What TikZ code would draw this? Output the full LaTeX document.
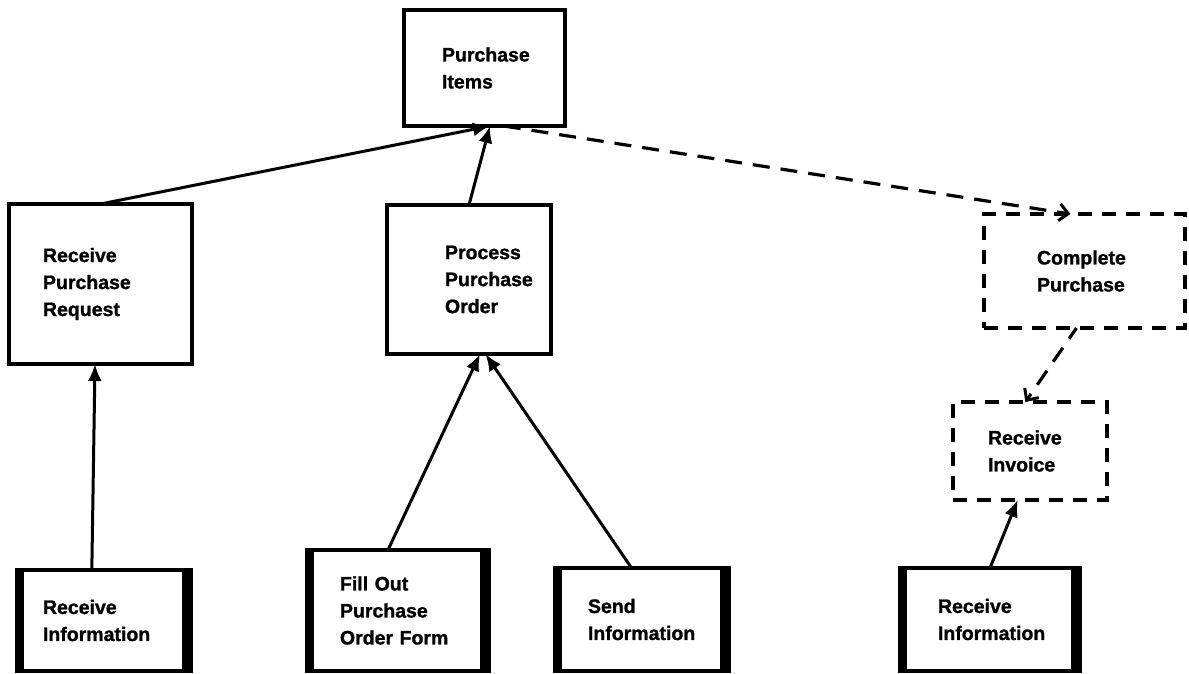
\documentclass[tikz,border=0pt]{standalone}
\usepackage{fontspec}
\setmainfont{Liberation Sans}
\newfontfamily\heavyfont{Liberation Sans Bold}[FakeBold=1.2]
\usetikzlibrary{arrows.meta,calc}
\begin{document}
\begin{tikzpicture}[x=1pt,y=-1pt,
  box/.style={draw,line width=3.2pt,anchor=north west,align=left,inner ysep=0pt,outer sep=0pt,
    font=\fontsize{19.5}{27}\heavyfont},
  dbox/.style={box,line width=3.4pt,dash pattern=on 14pt off 10pt},
  basebox/.style={box,line width=3.4pt,
    path picture={
      \fill (path picture bounding box.north west) rectangle ([xshift=7pt]path picture bounding box.south west);
      \fill (path picture bounding box.north east) rectangle ([xshift=-9pt]path picture bounding box.south east);
    }},
  conn/.style={line width=3pt,-{Latex[length=17pt,width=14pt]}},
  dconn/.style={line width=3.2pt,dash pattern=on 17pt off 11pt,
    -{Straight Barb[length=9pt,width=17pt,line width=3pt]}}
]
\useasboundingbox (0,0) rectangle (1189,673);
\fill[white] (0,0) rectangle (1189,673);

\node[box,minimum height=116pt,text width=85pt,inner xsep=38pt] (items) at (404,10) {Purchase\\Items};
\node[box,minimum height=160pt,text width=115pt,inner xsep=34pt] (rpr) at (9,204) {Receive\\Purchase\\Request};
\node[box,minimum height=149pt,text width=48pt,inner xsep=58pt] (ppo) at (387,205) {Process\\Purchase\\Order};
\node[dbox,minimum height=114pt,text width=95pt,inner xsep=53pt] (cp) at (984,214) {Complete\\Purchase};
\node[dbox,minimum height=98pt,text width=84pt,inner xsep=35pt] (inv) at (953,402) {Receive\\Invoice};

\node[basebox,minimum height=101pt,text width=122pt,inner xsep=26pt] (info1) at (17,570) {Receive\\Information};
\node[basebox,minimum height=121pt,text width=116pt,inner xsep=33pt] (fill) at (307,550) {Fill Out\\Purchase\\Order Form};
\node[basebox,minimum height=103pt,text width=108pt,inner xsep=33pt] (send) at (555,568) {Send\\Information};
\node[basebox,minimum height=103pt,text width=104pt,inner xsep=38pt] (info3) at (900,568) {Receive\\Information};

\draw[conn] (rpr.north) -- ($(items.south west)!0.534!(items.south east)$);
\draw[conn] (ppo.north) -- ($(items.south west)!0.534!(items.south east)$);
\draw[dconn] ($(items.south west)!0.62!(items.south east)$) -- ($(cp.north west)!0.43!(cp.north east)$);

\draw[conn] ($(info1.north west)!0.43!(info1.north east)$) -- ($(rpr.south west)!0.47!(rpr.south east)$);
\draw[conn] ($(fill.north west)!0.445!(fill.north east)$) -- ($(ppo.south west)!0.567!(ppo.south east)$);
\draw[conn] ($(send.north west)!0.44!(send.north east)$) -- ($(ppo.south west)!0.60!(ppo.south east)$);

\draw[dconn,dash phase=4pt] ($(cp.south west)!0.46!(cp.south east)$) -- ($(inv.north west)!0.47!(inv.north east)$);
\draw[conn] (info3.north) -- ($(inv.south west)!0.42!(inv.south east)$);
\end{tikzpicture}
\end{document}
